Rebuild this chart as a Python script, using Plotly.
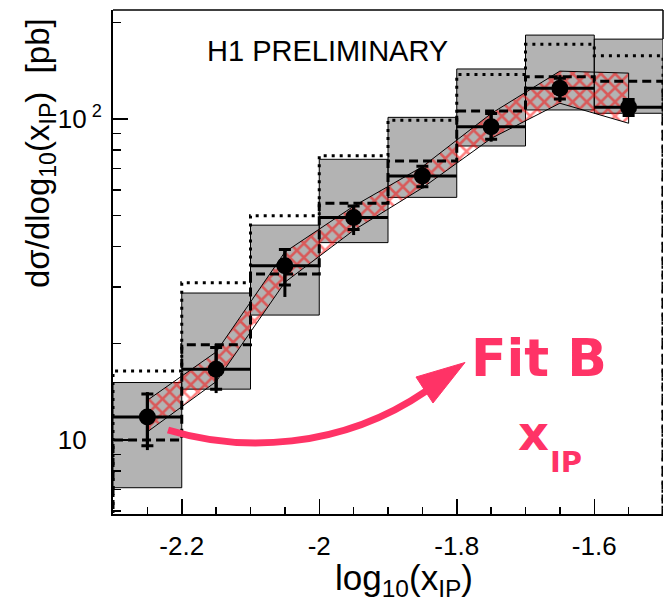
import numpy as np
import plotly.graph_objects as go

# ---------------- data ----------------
bin_edges = [-2.3, -2.2, -2.1, -2.0, -1.9, -1.8, -1.7, -1.6, -1.5]
bin_centers = [-2.25, -2.15, -2.05, -1.95, -1.85, -1.75, -1.65, -1.55]
data_vals = [11.8, 16.6, 34.9, 49.3, 66.4, 94.6, 124.6, 108.8]
tot_hi = [14.1, 19.9, 39.4, 54.0, 71.9, 106.0, 137.0, 116.0]
stat_hi = [13.9, 19.4, 39.2, 53.6, 71.2, 104.0, 134.0, 115.0]
stat_lo = [9.6, 14.4, 30.4, 45.3, 61.5, 86.5, 115.5, 102.5]
tot_lo = [9.3, 14.0, 27.9, 43.5, 60.8, 85.0, 113.0, 101.7]
sys_hi = [15.1, 28.7, 46.7, 74.9, 101.2, 143.2, 182.6, 177.4]
sys_lo = [7.1, 14.4, 24.5, 41.2, 57.0, 82.4, 106.7, 104.2]
dotted_vals = [16.4, 30.9, 50.0, 76.9, 99.1, 137.7, 170.9, 157.4]
dashed_vals = [10.0, 19.8, 32.9, 54.6, 74.0, 105.9, 135.5, 131.2]
band_hi = [13.3, 18.8, 38.5, 53.5, 71.0, 104.0, 141.0, 139.0]
band_lo = [10.6, 15.2, 31.0, 45.0, 61.0, 87.0, 112.0, 97.0]

x_major = [-2.2, -2.0, -1.8, -1.6]
x_major_text = ["-2.2", "-2", "-1.8", "-1.6"]
x_minor = [-2.25, -2.15, -2.1, -2.05, -1.95, -1.9, -1.85, -1.75, -1.7, -1.65, -1.55]
y_major = [10, 100]
y_major_text = ["10<span style='color:rgba(0,0,0,0)'><sup> 2</sup></span>",
                "10<sup> 2</sup>"]
y_minor = [6, 7, 8, 9, 20, 30, 40, 50, 60, 70, 80, 90, 200]

YMIN, YMAX = 5.88, 218.6
FLOOR = 1.0
PINK = "#ff3366"

# ---------------- layout helpers (page pixels) ----------------
W, H = 666, 602
L, R, T, B = 113, 663, 10, 514


def px(x):
    return (x - L) / (R - L)


def py(y):
    return (B - y) / (B - T)


def yval_paper(v):
    return (np.log10(v) - np.log10(YMIN)) / (np.log10(YMAX) - np.log10(YMIN))


fig = go.Figure()

# gray systematic boxes
gx, gy = [], []
for i in range(len(bin_centers)):
    l, r = bin_edges[i], bin_edges[i + 1]
    gx += [l, r, r, l, l, None]
    gy += [sys_lo[i], sys_lo[i], sys_hi[i], sys_hi[i], sys_lo[i], None]
fig.add_trace(go.Scatter(x=gx, y=gy, mode="lines", fill="toself",
                         fillcolor="#b3b3b3", line=dict(color="black", width=1),
                         hoverinfo="skip", showlegend=False))

# red hatched band
bx = bin_centers + bin_centers[::-1] + [bin_centers[0]]
by = band_hi + band_lo[::-1] + [band_hi[0]]
fig.add_trace(go.Scatter(x=bx, y=by, mode="lines", fill="toself",
                         fillcolor="rgba(0,0,0,0)",
                         fillpattern=dict(shape="x", fgcolor="#ff0000",
                                          bgcolor="rgba(0,0,0,0)",
                                          size=10, solidity=0.45),
                         line=dict(color="black", width=1),
                         hoverinfo="skip", showlegend=False))

# dotted and dashed histograms
hx = [bin_edges[0]] + bin_edges[:-1] + [bin_edges[-1], bin_edges[-1]]
fig.add_trace(go.Scatter(x=hx, y=[FLOOR] + dotted_vals + [dotted_vals[-1], FLOOR],
                         mode="lines", line=dict(color="black", width=3, dash="3px,5px", shape="hv"),
                         hoverinfo="skip", showlegend=False))
fig.add_trace(go.Scatter(x=hx, y=[FLOOR] + dashed_vals + [dashed_vals[-1], FLOOR],
                         mode="lines", line=dict(color="black", width=3, dash="9px,5px", shape="hv"),
                         hoverinfo="skip", showlegend=False))

# data: total error bars + horizontal bin width
fig.add_trace(go.Scatter(
    x=bin_centers, y=data_vals, mode="markers",
    marker=dict(color="black", size=1),
    error_x=dict(type="constant", value=0.05, width=0, thickness=3, color="black"),
    error_y=dict(type="data", array=[h - v for h, v in zip(tot_hi, data_vals)],
                 arrayminus=[v - l for v, l in zip(data_vals, tot_lo)],
                 width=0, thickness=3, color="black"),
    hoverinfo="skip", showlegend=False))
# stat error ticks + markers
fig.add_trace(go.Scatter(
    x=bin_centers, y=data_vals, mode="markers",
    marker=dict(color="black", size=17, symbol="circle"),
    error_y=dict(type="data", array=[h - v for h, v in zip(stat_hi, data_vals)],
                 arrayminus=[v - l for v, l in zip(data_vals, stat_lo)],
                 width=6, thickness=3, color="black"),
    hoverinfo="skip", showlegend=False))

shapes = []
# top frame line
shapes.append(dict(type="line", xref="paper", yref="paper", x0=0, x1=1, y0=1, y1=1,
                   line=dict(color="black", width=1.5)))
# right frame piece above last gray box
shapes.append(dict(type="line", xref="paper", yref="paper", x0=1, x1=1, y0=1,
                   y1=yval_paper(sys_hi[-1]), line=dict(color="black", width=1.5)))

# curved pink arrow
pts = [(168, 430), (240, 452), (340, 450), (426, 391)]
path = "M {:.4f},{:.4f} C {:.4f},{:.4f} {:.4f},{:.4f} {:.4f},{:.4f}".format(
    px(pts[0][0]), py(pts[0][1]), px(pts[1][0]), py(pts[1][1]),
    px(pts[2][0]), py(pts[2][1]), px(pts[3][0]), py(pts[3][1]))
shapes.append(dict(type="path", xref="paper", yref="paper", path=path,
                   line=dict(color=PINK, width=7)))
head = [(465, 362.5), (416, 377), (433, 403)]
hpath = "M {:.4f},{:.4f} L {:.4f},{:.4f} L {:.4f},{:.4f} Z".format(
    px(head[0][0]), py(head[0][1]), px(head[1][0]), py(head[1][1]),
    px(head[2][0]), py(head[2][1]))
shapes.append(dict(type="path", xref="paper", yref="paper", path=hpath,
                   fillcolor=PINK, line=dict(color=PINK, width=1)))

sans = "Liberation Sans, Arial, Helvetica, sans-serif"
bold = "DejaVu Sans, sans-serif"
annotations = [
    dict(text="H1 PRELIMINARY", x=px(327), y=py(51), xref="paper", yref="paper",
         showarrow=False, xanchor="center", yanchor="middle",
         font=dict(family=sans, size=29, color="black")),
    dict(text="<b>Fit B</b>", x=px(539), y=py(358), xref="paper", yref="paper",
         showarrow=False, xanchor="center", yanchor="middle",
         font=dict(family=bold, size=52, color=PINK)),
    dict(text="<b>x</b>", x=px(533), y=py(433), xref="paper", yref="paper",
         showarrow=False, xanchor="center", yanchor="middle",
         font=dict(family=bold, size=48, color=PINK)),
    dict(text="<b>IP</b>", x=px(566), y=py(462), xref="paper", yref="paper",
         showarrow=False, xanchor="center", yanchor="middle",
         font=dict(family=bold, size=29, color=PINK)),
    dict(text="dσ/dlog<sub>10</sub>(x<sub>IP</sub>)  [pb]", x=px(40), y=py(153),
         xref="paper", yref="paper", showarrow=False, textangle=-90,
         xanchor="center", yanchor="middle",
         font=dict(family=sans, size=33, color="black")),
    dict(text="log<sub>10</sub>(x<sub>IP</sub>)", x=px(404), y=py(580),
         xref="paper", yref="paper", showarrow=False,
         xanchor="center", yanchor="middle",
         font=dict(family=sans, size=35, color="black")),
]

tickfont = dict(family=sans, size=26, color="black")

fig.update_layout(
    width=W, height=H,
    margin=dict(l=L, r=W - R, t=T, b=H - B, pad=0, autoexpand=False),
    paper_bgcolor="white", plot_bgcolor="white",
    showlegend=False,
    shapes=shapes, annotations=annotations,
    xaxis=dict(range=[bin_edges[0], bin_edges[-1]], tickmode="array",
               tickvals=x_major, ticktext=x_major_text, ticks="inside",
               ticklen=15, tickwidth=1.5, tickcolor="black",
               minor=dict(tickmode="array", tickvals=x_minor, ticks="inside",
                          ticklen=7, tickwidth=1.5, tickcolor="black", showgrid=False),
               showline=True, linecolor="black", linewidth=2, mirror=False,
               showgrid=False, zeroline=False, tickfont=tickfont,
               ticklabelstandoff=8, automargin=False),
    yaxis=dict(type="log", range=[np.log10(YMIN), np.log10(YMAX)], tickmode="array",
               tickvals=y_major, ticktext=y_major_text, ticks="inside",
               ticklen=15, tickwidth=1.5, tickcolor="black",
               minor=dict(tickmode="array", tickvals=y_minor, ticks="inside",
                          ticklen=8, tickwidth=1.5, tickcolor="black", showgrid=False),
               showline=True, linecolor="black", linewidth=2, mirror=False,
               showgrid=False, zeroline=False, tickfont=tickfont,
               ticklabelstandoff=4, automargin=False),
)

fig.write_html("out.html",
               config={"displayModeBar": False, "staticPlot": True},
               post_script="document.body.style.margin='0';"
                           "document.body.style.overflow='hidden';")
